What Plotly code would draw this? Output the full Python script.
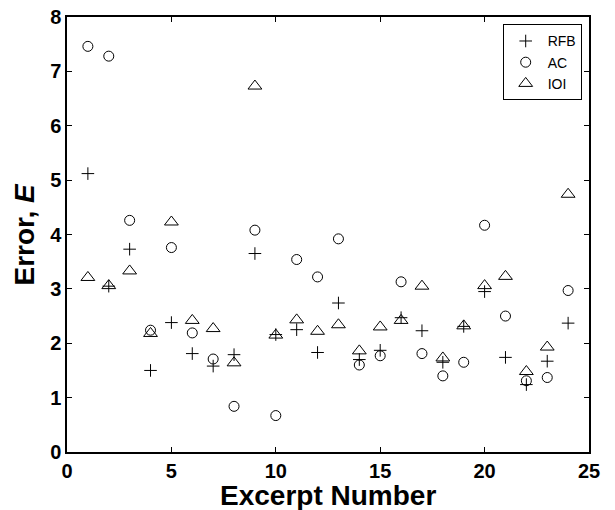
import plotly.graph_objects as go

excerpt = list(range(1, 25))
rfb = [5.12, 3.05, 3.73, 1.50, 2.38, 1.81, 1.58, 1.79, 3.65, 2.16, 2.25, 1.83,
       2.74, 1.70, 1.87, 2.47, 2.23, 1.65, 2.31, 2.95, 1.74, 1.24, 1.67, 2.37]
ac = [7.46, 7.28, 4.26, 2.24, 3.76, 2.19, 1.71, 0.84, 4.08, 0.67, 3.54, 3.22,
      3.92, 1.60, 1.77, 3.13, 1.81, 1.40, 1.65, 4.17, 2.50, 1.31, 1.37, 2.97]
ioi = [3.21, 3.06, 3.33, 2.18, 4.23, 2.42, 2.27, 1.64, 6.73, 2.15, 2.43, 2.22,
       2.34, 1.86, 2.30, 2.42, 3.05, 1.73, 2.32, 3.06, 3.23, 1.48, 1.93, 4.74]
x_ticks = [0, 5, 10, 15, 20, 25]
y_ticks = [0, 1, 2, 3, 4, 5, 6, 7, 8]

FONT = "Liberation Sans, Arial"

fig = go.Figure()
fig.add_trace(go.Scatter(x=excerpt, y=rfb, mode="markers", name="RFB",
                         marker=dict(symbol="cross-thin-open", size=9,
                                     color="black", line=dict(width=1, color="black"))))
fig.add_trace(go.Scatter(x=excerpt, y=ac, mode="markers", name="AC",
                         marker=dict(symbol="circle-open", size=10,
                                     color="black", line=dict(width=1, color="black"))))
fig.add_trace(go.Scatter(x=excerpt, y=ioi, mode="markers", name="IOI",
                         marker=dict(symbol="triangle-up-open", size=12,
                                     color="black", line=dict(width=1, color="black"))))

axis_common = dict(showline=True, linecolor="black", linewidth=1.5, mirror="ticks",
                   ticks="inside", ticklen=5, tickcolor="black", tickwidth=1,
                   showgrid=False, zeroline=False, automargin=False,
                   tickfont=dict(family=FONT, size=20, color="black", weight="bold"))

fig.update_layout(
    width=615, height=510,
    margin=dict(l=67, r=26, t=17, b=58, autoexpand=False),
    paper_bgcolor="white", plot_bgcolor="white",
    font=dict(family=FONT, color="black"),
    xaxis=dict(range=[0, 25], tickvals=x_ticks, **axis_common),
    yaxis=dict(range=[0, 8], tickvals=y_ticks, **axis_common),
    legend=dict(x=0.986, y=0.983, xanchor="right", yanchor="top",
                bordercolor="black", borderwidth=1, bgcolor="white",
                font=dict(size=14, family=FONT, color="black"),
                itemwidth=34, tracegroupgap=0),
    showlegend=True,
    annotations=[
        dict(text="<b>Excerpt Number</b>", xref="paper", yref="paper",
             x=0.5, y=-0.1, xanchor="center", yanchor="middle",
             showarrow=False, font=dict(size=28, family=FONT, color="black")),
        dict(text="<b>Error, <i>E</i></b>", xref="paper", yref="paper",
             x=-0.0805, y=0.5, xanchor="center", yanchor="middle", textangle=-90,
             showarrow=False, font=dict(size=28, family=FONT, color="black")),
    ],
)

fig.write_html("out.html", config={"displayModeBar": False},
               post_script="document.body.style.margin='0';document.body.style.overflow='hidden';")
